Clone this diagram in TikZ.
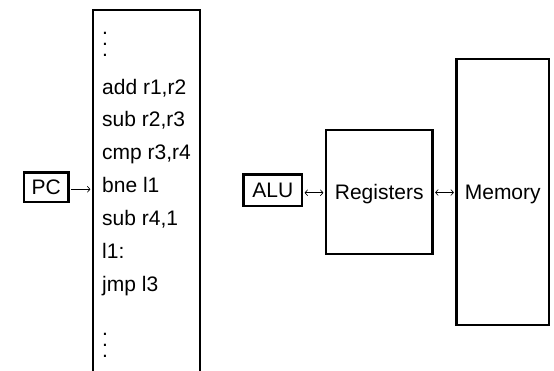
\documentclass[tikz,border=0pt]{standalone}
\usepackage{fontspec}
\setmainfont{Liberation Sans}
\usetikzlibrary{arrows.meta}
\begin{document}
\begin{tikzpicture}[x=1pt,y=-1pt,
  font=\fontsize{21}{25}\selectfont,
  >={Straight Barb[length=2.8pt,width=6pt]},
  box/.style={draw,line width=2.1pt,inner sep=0pt,text height=15pt,text depth=0pt},
  txt/.style={anchor=base west,inner sep=0pt},
  dots/.style={anchor=north west,inner sep=0pt,align=left,font=\fontsize{21}{11.3}\selectfont},
  conn/.style={line width=0.6pt,shorten <=1.5pt,shorten >=1.5pt}]
\useasboundingbox (0,0) rectangle (554,370);
\clip (0,0) rectangle (554,370);
% program listing
\node[draw,line width=2.1pt,inner sep=0pt,minimum width=107pt,minimum height=380pt] (prog) at (146.5,200) {};
\node[dots] (dtop) at (102,31.8) {.\\.\\.};
\node[txt] (l1) at (102,94) {add r1,r2};
\node[txt] (l2) at (102,126.9) {sub r2,r3};
\node[txt] (l3) at (102,159.8) {cmp r3,r4};
\node[txt] (l4) at (102,192.7) {bne l1};
\node[txt] (l5) at (102,225.6) {sub r4,1};
\node[txt] (l6) at (102,258.5) {l1:};
\node[txt] (l7) at (102,291.4) {jmp l3};
\node[dots] (dbot) at (102,332.8) {.\\.\\.};
% PC
\node[box,minimum width=44.5pt,minimum height=29.5pt] (pc) at (46.25,187.25) {PC};
\draw[conn,->] ([yshift=-2pt]pc.east) -- ([yshift=-2pt]pc.east -| prog.west);
% ALU, registers, memory
\node[box,minimum width=58.5pt,minimum height=31.5pt] (alu) at (272.75,190.25) {ALU};
\node[box,minimum width=106.5pt,minimum height=124pt] (reg) at (379.25,192) {Registers};
\node[box,minimum width=92.5pt,minimum height=266pt] (mem) at (502.75,192) {Memory};
\draw[conn,<->] ([yshift=-2.5pt]alu.east) -- ([yshift=-2.5pt]alu.east -| reg.west);
\draw[conn,<->] ([yshift=-0.5pt]reg.east) -- ([yshift=-0.5pt]reg.east -| mem.west);
\end{tikzpicture}
\end{document}
